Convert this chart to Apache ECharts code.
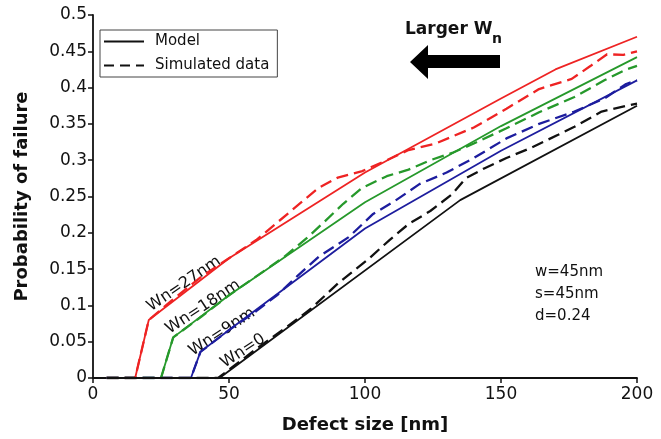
<!DOCTYPE html>
<html>
<head>
<meta charset="utf-8">
<script src="https://cdn.jsdelivr.net/npm/echarts@6/dist/echarts.min.js"></script>
<style>
  html, body { margin: 0; padding: 0; background: #fff; }
  #chart { width: 661px; height: 439px; }
</style>
</head>
<body>
<div id="chart"></div>
<script>
  // model curves: [defect size nm, probability]
  const model27 = [[5, 0], [15.5, 0], [20.5, 0.08], [50, 0.165], [100, 0.283], [150, 0.385], [170, 0.425], [200, 0.47]];
  const model18 = [[5, 0], [25, 0], [29.5, 0.056], [50, 0.114], [100, 0.242], [150, 0.347], [200, 0.442]];
  const model9 = [[5, 0], [36, 0], [39.5, 0.036], [50, 0.066], [100, 0.206], [150, 0.313], [200, 0.41]];
  const model0 = [[5, 0], [46.5, 0], [135, 0.245], [200, 0.375]];

  // simulated data
  const sim27 = [[5, 0], [15.5, 0], [20.5, 0.08], [30, 0.11], [40, 0.14], [50, 0.165], [60, 0.19], [68, 0.215],
    [75, 0.237], [83, 0.262], [90, 0.276], [99, 0.285], [108, 0.3], [116, 0.314], [126, 0.323], [140, 0.345],
    [152, 0.371], [164, 0.398], [176, 0.412], [183, 0.43], [189, 0.446], [195, 0.445], [200, 0.45]];
  const sim18 = [[5, 0], [25, 0], [29.5, 0.056], [40, 0.085], [50, 0.114], [60, 0.14], [70, 0.166], [79, 0.194],
    [85, 0.215], [92, 0.24], [99, 0.262], [108, 0.278], [116, 0.287], [124, 0.3], [132, 0.31], [140, 0.323],
    [152, 0.344], [164, 0.366], [177, 0.387], [188, 0.41], [196, 0.425], [200, 0.43]];
  const sim9 = [[5, 0], [36, 0], [39.5, 0.036], [50, 0.066], [60, 0.092], [68, 0.115], [75, 0.14], [83, 0.167],
    [94, 0.194], [103, 0.226], [111, 0.244], [120, 0.267], [130, 0.283], [140, 0.303], [152, 0.33], [164, 0.35],
    [177, 0.367], [188, 0.385], [196, 0.405], [200, 0.41]];
  const sim0 = [[5, 0], [46, 0], [60, 0.04], [70, 0.067], [80, 0.095], [90, 0.13], [101, 0.163], [109, 0.19],
    [116, 0.212], [124, 0.23], [132, 0.253], [137, 0.275], [144, 0.289], [152, 0.303], [161, 0.317], [171, 0.335],
    [177, 0.346], [187, 0.367], [196, 0.375], [200, 0.378]];

  const curveLabels = ["Wn=27nm", "Wn=18nm", "Wn=9nm", "Wn=0"];
  const noteLines = ["w=45nm", "s=45nm", "d=0.24"];

  const colors = { w27: "#ee2323", w18: "#26992b", w9: "#1d1d9e", w0: "#111111" };
  const font = "DejaVu Sans";
  const dash = [12, 6];

  function solid(name, data, color) {
    return {
      name: name, type: "line", data: data, symbol: "none", silent: true, z: 3,
      lineStyle: { color: color, width: 1.8 },
    };
  }
  function dashed(name, data, color) {
    return {
      name: name, type: "line", data: data, symbol: "none", silent: true, z: 2,
      lineStyle: { color: color, width: 2.3, type: dash },
    };
  }

  const chart = echarts.init(document.getElementById("chart"));
  chart.setOption({
    animation: false,
    backgroundColor: "#fff",
    grid: { left: 93, right: 24, top: 15, bottom: 56 },
    legend: {
      orient: "vertical", left: 100, top: 30,
      data: ["Model", "Simulated data"],
      itemWidth: 40, itemHeight: 14, itemGap: 9,
      padding: [4, 8, 4, 3],
      borderColor: "#444", borderWidth: 1,
      itemStyle: { opacity: 0 },
      textStyle: { fontFamily: font, fontSize: 15, color: "#111", padding: [0, 0, 0, 6] },
    },
    xAxis: {
      type: "value", min: 0, max: 200, interval: 50,
      name: "Defect size [nm]", nameLocation: "middle", nameGap: 38,
      nameTextStyle: { fontFamily: font, fontSize: 18, fontWeight: "bold", color: "#111" },
      axisLine: { lineStyle: { color: "#111", width: 1.8 } },
      axisTick: { show: true, length: 5, lineStyle: { color: "#111", width: 1.5 } },
      axisLabel: { fontFamily: font, fontSize: 17, color: "#111", margin: 8 },
      splitLine: { show: false },
    },
    yAxis: {
      type: "value", min: 0, max: 0.5, interval: 0.05,
      name: "Probability of failure", nameLocation: "middle", nameGap: 62,
      nameTextStyle: { fontFamily: font, fontSize: 18, fontWeight: "bold", color: "#111" },
      axisLine: { show: true, lineStyle: { color: "#111", width: 1.8 } },
      axisTick: { show: true, length: 5, lineStyle: { color: "#111", width: 1.5 } },
      axisLabel: { fontFamily: font, fontSize: 17, color: "#111", margin: 6 },
      splitLine: { show: false },
    },
    series: [
      { name: "Model", type: "line", data: [], symbol: "none", lineStyle: { color: "#111", width: 2 }, itemStyle: { color: "#111" } },
      { name: "Simulated data", type: "line", data: [], symbol: "none", lineStyle: { color: "#111", width: 2.5, type: [10, 6] }, itemStyle: { color: "#111" } },
      dashed("sim27", sim27, colors.w27),
      dashed("sim18", sim18, colors.w18),
      dashed("sim9", sim9, colors.w9),
      dashed("sim0", sim0, colors.w0),
      solid("model27", model27, colors.w27),
      solid("model18", model18, colors.w18),
      solid("model9", model9, colors.w9),
      solid("model0", model0, colors.w0),
    ],
    graphic: [
      {
        type: "polygon", z: 10,
        shape: { points: [[410, 62], [428, 45], [428, 55], [500, 55], [500, 68], [428, 68], [428, 79]] },
        style: { fill: "#000" },
      },
      { type: "text", x: 405, y: 30, style: { text: "Larger W", font: "bold 17px " + font, fill: "#111", textVerticalAlign: "middle" } },
      { type: "text", x: 492, y: 39, style: { text: "n", font: "bold 14px " + font, fill: "#111", textVerticalAlign: "middle" } },
      { type: "text", x: 184, y: 284, rotation: 0.6, style: { text: curveLabels[0], font: "16px " + font, fill: "#111", textAlign: "center", textVerticalAlign: "middle" } },
      { type: "text", x: 203, y: 307, rotation: 0.58, style: { text: curveLabels[1], font: "16px " + font, fill: "#111", textAlign: "center", textVerticalAlign: "middle" } },
      { type: "text", x: 222, y: 332, rotation: 0.58, style: { text: curveLabels[2], font: "16px " + font, fill: "#111", textAlign: "center", textVerticalAlign: "middle" } },
      { type: "text", x: 243, y: 351, rotation: 0.58, style: { text: curveLabels[3], font: "16px " + font, fill: "#111", textAlign: "center", textVerticalAlign: "middle" } },
      { type: "text", x: 535, y: 272, style: { text: noteLines[0], font: "15px " + font, fill: "#111", textVerticalAlign: "middle" } },
      { type: "text", x: 535, y: 294, style: { text: noteLines[1], font: "15px " + font, fill: "#111", textVerticalAlign: "middle" } },
      { type: "text", x: 535, y: 316, style: { text: noteLines[2], font: "15px " + font, fill: "#111", textVerticalAlign: "middle" } },
    ],
  });
</script>
</body>
</html>
